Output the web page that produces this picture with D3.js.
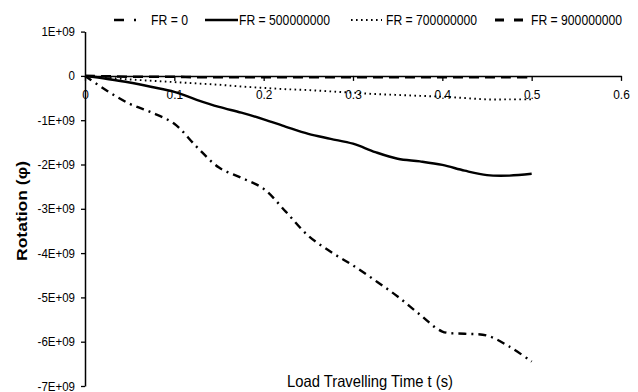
<!DOCTYPE html>
<html>
<head>
<meta charset="utf-8">
<script src="https://cdn.jsdelivr.net/npm/d3@7"></script>
<style>
  html, body { margin: 0; padding: 0; background: #fff; }
  svg { display: block; }
  text { font-family: "Liberation Sans", Arial, sans-serif; fill: #000; }
</style>
</head>
<body>
<svg id="chart" width="638" height="392"></svg>
<script>
// Load travelling time (s)
const times = [0, 0.025, 0.05, 0.075, 0.1, 0.125, 0.15, 0.175, 0.2, 0.225, 0.25,
               0.275, 0.3, 0.325, 0.35, 0.375, 0.4, 0.425, 0.45, 0.475, 0.5];

// Rotation for each foundation stiffness FR
const rotFR0 = [0, -0.34e9, -0.63e9, -0.83e9, -1.08e9, -1.60e9, -2.07e9, -2.30e9, -2.55e9, -3.07e9, -3.61e9,
                -3.97e9, -4.28e9, -4.62e9, -4.98e9, -5.39e9, -5.77e9, -5.82e9, -5.86e9, -6.11e9, -6.45e9];
const rotFR500 = [0, -0.07e9, -0.15e9, -0.25e9, -0.36e9, -0.54e9, -0.70e9, -0.83e9, -0.98e9, -1.15e9, -1.31e9,
                  -1.42e9, -1.53e9, -1.72e9, -1.87e9, -1.93e9, -2.01e9, -2.14e9, -2.24e9, -2.25e9, -2.21e9];
const rotFR700 = [0, -0.04e9, -0.08e9, -0.11e9, -0.14e9, -0.17e9, -0.20e9, -0.24e9, -0.27e9, -0.30e9, -0.32e9,
                  -0.35e9, -0.38e9, -0.41e9, -0.43e9, -0.45e9, -0.47e9, -0.50e9, -0.53e9, -0.53e9, -0.53e9];
const rotFR900 = [0, -0.01e9, -0.02e9, -0.02e9, -0.02e9, -0.03e9, -0.03e9, -0.03e9, -0.03e9, -0.03e9, -0.03e9,
                  -0.03e9, -0.03e9, -0.03e9, -0.03e9, -0.03e9, -0.03e9, -0.03e9, -0.03e9, -0.03e9, -0.03e9];

const seriesNames = ["FR = 0", "FR = 500000000", "FR = 700000000", "FR = 900000000"];

const xTicks = [0, 0.1, 0.2, 0.3, 0.4, 0.5, 0.6];
const xTickLabels = ["0", "0.1", "0.2", "0.3", "0.4", "0.5", "0.6"];
const yTicks = [1e9, 0, -1e9, -2e9, -3e9, -4e9, -5e9, -6e9, -7e9];
const yTickLabels = ["1E+09", "0", "-1E+09", "-2E+09", "-3E+09", "-4E+09", "-5E+09", "-6E+09", "-7E+09"];

const xTitle = "Load Travelling Time t (s)";
const yTitle = "Rotation (\u03C6)";

const styles = [
  { dash: "8,5,2,5", width: 2.4 },
  { dash: null, width: 2.4 },
  { dash: "1.6,3.4", width: 1.9 },
  { dash: "10,6", width: 2.6 }
];

const svg = d3.select("#chart");

// squeeze text horizontally to give a narrow typeface look
function narrow(sel, factor) {
  sel.each(function () {
    const len = this.getComputedTextLength();
    d3.select(this).attr("textLength", len * factor).attr("lengthAdjust", "spacingAndGlyphs");
  });
}

const x = d3.scaleLinear().domain([0, 0.6]).range([85, 621]);
const y = d3.scaleLinear().domain([-7e9, 1e9]).range([386, 31.6]);

// y axis (left)
const yAxis = d3.axisLeft(y)
  .tickValues(yTicks)
  .tickFormat((d, i) => yTickLabels[i])
  .tickSize(4)
  .tickSizeOuter(0);
const gy = svg.append("g").attr("transform", `translate(${x(0)},0)`).call(yAxis);
gy.select(".domain").attr("stroke", "#000").attr("stroke-width", 1.5);
gy.selectAll(".tick line").attr("stroke", "#000").attr("stroke-width", 1.3);
gy.selectAll(".tick text").attr("x", -10).style("font-size", "12.5px").attr("font-family", null);
narrow(gy.selectAll(".tick text"), 0.92);

// x axis at y = 0
const xAxis = d3.axisBottom(x)
  .tickValues(xTicks)
  .tickFormat((d, i) => xTickLabels[i])
  .tickSize(5)
  .tickSizeOuter(0);
const gx = svg.append("g").attr("transform", `translate(0,${y(0)})`).call(xAxis);
gx.select(".domain").attr("stroke", "#000").attr("stroke-width", 1.5);
gx.selectAll(".tick line").attr("stroke", "#000").attr("stroke-width", 1.3);
gx.selectAll(".tick text").attr("y", 14).style("font-size", "13.5px").attr("font-family", null);
narrow(gx.selectAll(".tick text"), 0.88);

// series lines
const allSeries = [rotFR0, rotFR500, rotFR700, rotFR900];
const line = d3.line()
  .x((d, i) => x(times[i]))
  .y(d => y(d))
  .curve(d3.curveCatmullRom.alpha(0.5));

allSeries.forEach((vals, k) => {
  svg.append("path")
    .datum(vals)
    .attr("fill", "none")
    .attr("stroke", "#000")
    .attr("stroke-width", styles[k].width)
    .attr("stroke-dasharray", styles[k].dash)
    .attr("d", line);
});

// legend
const legendItems = [
  { x1: 114, x2: 138, tx: 151, w: 37 },
  { x1: 205, x2: 238, tx: 239, w: 91 },
  { x1: 351, x2: 382, tx: 386, w: 91 },
  { x1: 495, x2: 524, tx: 531, w: 91 }
];
const lg = svg.append("g");
legendItems.forEach((it, k) => {
  lg.append("line")
    .attr("x1", it.x1).attr("x2", it.x2)
    .attr("y1", 20).attr("y2", 20)
    .attr("stroke", "#000")
    .attr("stroke-width", styles[k].width + 0.3)
    .attr("stroke-dasharray", k === 0 ? "10,10,2,4" : (k === 3 ? "9,10" : styles[k].dash));
  lg.append("text")
    .attr("x", it.tx).attr("y", 20)
    .attr("dy", "0.36em")
    .style("font-size", "14.5px")
    .attr("textLength", it.w)
    .attr("lengthAdjust", "spacingAndGlyphs")
    .text(seriesNames[k]);
});

// axis titles
svg.append("text")
  .attr("x", 370).attr("y", 381)
  .attr("dy", "0.36em")
  .attr("text-anchor", "middle")
  .style("font-size", "16.5px")
  .attr("textLength", 166)
  .attr("lengthAdjust", "spacingAndGlyphs")
  .text(xTitle);

svg.append("text")
  .attr("transform", "translate(22,211) rotate(-90)")
  .attr("dy", "0.36em")
  .attr("text-anchor", "middle")
  .style("font-size", "15px")
  .style("font-weight", "bold")
  .attr("textLength", 100)
  .attr("lengthAdjust", "spacingAndGlyphs")
  .text(yTitle);
</script>
</body>
</html>
